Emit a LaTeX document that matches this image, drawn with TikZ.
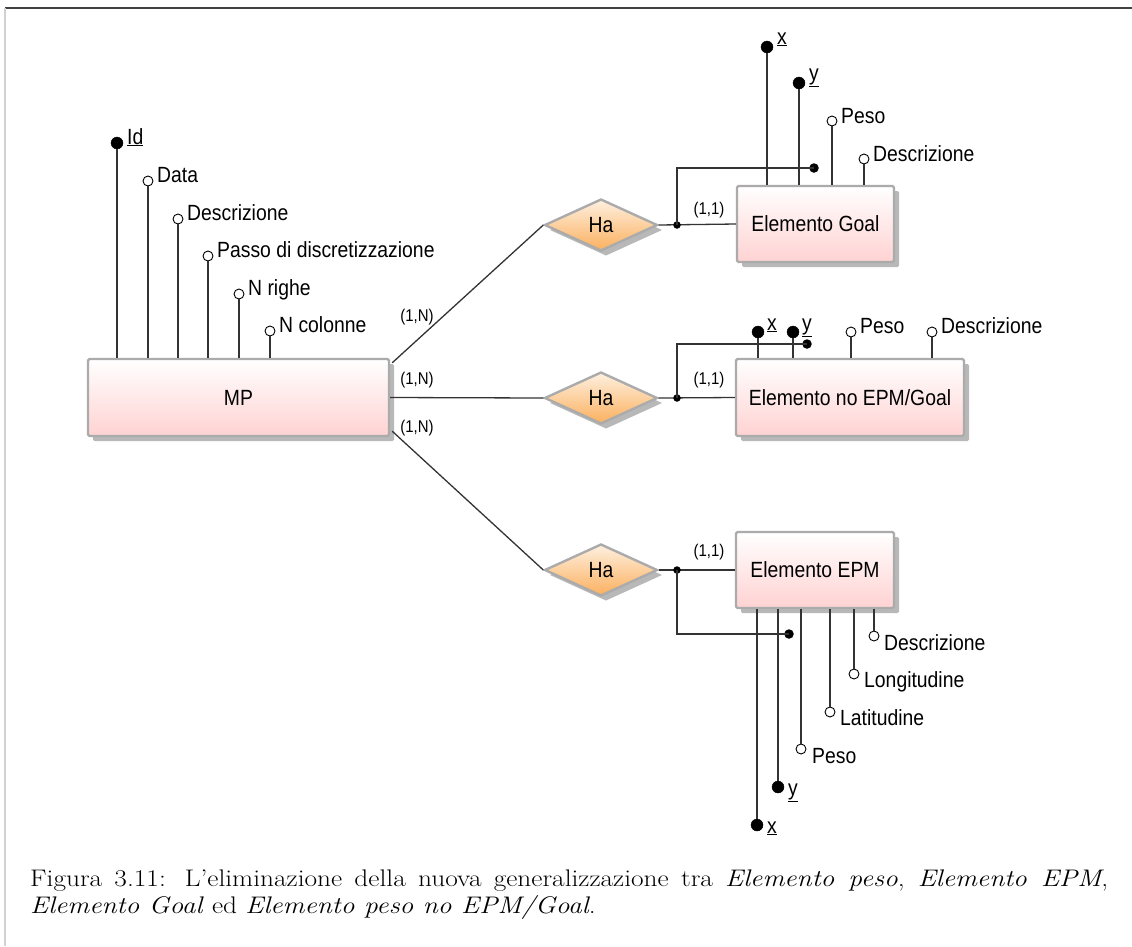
\documentclass[tikz,border=0pt]{standalone}
\usepackage{fontspec}
\newfontfamily\dfont[FakeStretch=0.88]{Liberation Sans}
\newfontfamily\capfont[FakeStretch=1.14]{Latin Modern Roman}
\usetikzlibrary{shapes.geometric,shadows,calc}
\definecolor{entbot}{HTML}{FFD2D2}
\definecolor{reltop}{HTML}{FEF0E0}
\definecolor{relbot}{HTML}{FBB05E}
\definecolor{shapeline}{HTML}{ABABAB}

\begin{document}
\begin{tikzpicture}[x=1pt,y=-1pt,
  entity/.style={rectangle, draw=shapeline, line width=2.4pt, rounded corners=1.5pt,
    top color=white, bottom color=entbot,
    drop shadow={shadow xshift=5pt, shadow yshift=-5pt, fill=black!28, opacity=1},
    inner sep=0pt, font=\dfont\fontsize{22}{26}\selectfont},
  relation/.style={diamond, draw=shapeline, line width=2.4pt,
    top color=reltop, bottom color=relbot,
    drop shadow={shadow xshift=5pt, shadow yshift=-5pt, fill=black!28, opacity=1},
    minimum width=113pt, minimum height=52pt, inner sep=0pt,
    font=\dfont\fontsize{22}{26}\selectfont},
  lbl/.style={inner sep=0pt, font=\dfont\fontsize{22}{26}\selectfont},
  card/.style={inner sep=0pt, font=\dfont\fontsize{17}{20}\selectfont},
  keyattr/.style={circle, fill=black, draw=black, inner sep=0pt, minimum size=12pt},
  attr/.style={circle, fill=white, draw=black, line width=0.9pt, inner sep=0pt, minimum size=10pt},
  jdot/.style={circle, fill=black, inner sep=0pt, minimum size=7.5pt},
  kdot/.style={circle, fill=black, inner sep=0pt, minimum size=9.5pt},
  link/.style={draw=black!80, line width=1.3pt}
]
\useasboundingbox (0,0) rectangle (1132,946);

% page frame
\draw[black!75, line width=2pt] (5,8) -- (1132,8);
\draw[black!18, line width=1.2pt] (5,8) -- (5,946);

% entities
\node[entity, minimum width=301pt, minimum height=77pt] (mp) at (238.5,397.5) {MP};
\node[entity, minimum width=157pt, minimum height=76pt] (goal) at (815.5,224) {Elemento Goal};
\node[entity, minimum width=228pt, minimum height=77pt] (noepm) at (850,397.5) {Elemento no EPM/Goal};
\node[entity, minimum width=158pt, minimum height=76pt] (epm) at (815,570) {Elemento EPM};

% relationships
\node[relation] (ha1) at (601,225) {Ha};
\node[relation] (ha2) at (601,398) {Ha};
\node[relation] (ha3) at (601,570) {Ha};

% MP to relationships
\draw[link] ($(mp.north east)+(2,5)$) -- (ha1.west);
\draw[link] (mp.east) -- (ha2.west);
\draw[link] ($(mp.south east)+(2,-6)$) -- (ha3.west);
\node[card] (c1) at (417,317) {(1,N)};
\node[card] (c2) at (417,380) {(1,N)};
\node[card] (c3) at (417,428) {(1,N)};

% relationships to entities, with external identifiers
\draw[link] (ha1.east) -- (goal.west);
\draw[link] (ha2.east) -- (noepm.west);
\draw[link] (ha3.east) -- (epm.west);
\node[card] (c4) at (709,210) {(1,1)};
\node[card] (c5) at (709,380) {(1,1)};
\node[card] (c6) at (709,552) {(1,1)};

\node[jdot] (j1) at (677,225) {};
\node[kdot] (k1) at (814,168) {};
\draw[link] (j1.center) |- (k1.center);
\node[jdot] (j2) at (677,398) {};
\node[kdot] (k2) at (807,344) {};
\draw[link] (j2.center) |- (k2.center);
\node[jdot] (j3) at (677,570) {};
\node[kdot] (k3) at (789,634) {};
\draw[link] (j3.center) |- (k3.center);

% MP attributes
\node[keyattr] (mid) at (117,143) {};
\node[attr] (mdata) at (148,181) {};
\node[attr] (mdesc) at (178,219) {};
\node[attr] (mpasso) at (208,256) {};
\node[attr] (mrighe) at (239,294) {};
\node[attr] (mcol) at (270,331) {};
\foreach \a in {mid,mdata,mdesc,mpasso,mrighe,mcol}
  \draw[link] (\a) -- (\a |- mp.north);
\node[lbl, anchor=base west] (lid) at ($(mid)+(10,1)$) {\underline{Id}};
\node[lbl, anchor=base west] (ldata) at ($(mdata)+(9,1)$) {Data};
\node[lbl, anchor=base west] (ldesc) at ($(mdesc)+(9,1)$) {Descrizione};
\node[lbl, anchor=base west] (lpasso) at ($(mpasso)+(9,1)$) {Passo di discretizzazione};
\node[lbl, anchor=base west] (lrighe) at ($(mrighe)+(9,1)$) {N righe};
\node[lbl, anchor=base west] (lcol) at ($(mcol)+(9,1)$) {N colonne};

% Elemento Goal attributes
\node[keyattr] (gx) at (767,47) {};
\node[keyattr] (gy) at (799,83) {};
\node[attr] (gpeso) at (832,121) {};
\node[attr] (gdesc) at (864,159) {};
\foreach \a in {gx,gy,gpeso,gdesc}
  \draw[link] (\a) -- (\a |- goal.north);
\node[lbl, anchor=base west] (lgx) at ($(gx)+(10,-3)$) {\underline{x}};
\node[lbl, anchor=base west] (lgy) at ($(gy)+(10,-3)$) {\underline{y}};
\node[lbl, anchor=base west] (lgpeso) at ($(gpeso)+(9,2)$) {Peso};
\node[lbl, anchor=base west] (lgdesc) at ($(gdesc)+(9,2)$) {Descrizione};

% Elemento no EPM/Goal attributes
\node[keyattr] (nx) at (758,332) {};
\node[keyattr] (ny) at (793,332) {};
\node[attr] (npeso) at (851,332) {};
\node[attr] (ndesc) at (932,332) {};
\foreach \a in {nx,ny,npeso,ndesc}
  \draw[link] (\a) -- (\a |- noepm.north);
\node[lbl, anchor=base west] (lnx) at ($(nx)+(9,-2)$) {\underline{x}};
\node[lbl, anchor=base west] (lny) at ($(ny)+(9,-2)$) {\underline{y}};
\node[lbl, anchor=base west] (lnpeso) at ($(npeso)+(9,1)$) {Peso};
\node[lbl, anchor=base west] (lndesc) at ($(ndesc)+(9,1)$) {Descrizione};

% Elemento EPM attributes
\node[keyattr] (ex) at (757,825) {};
\node[keyattr] (ey) at (778,787) {};
\node[attr] (epeso) at (801,749) {};
\node[attr] (elat) at (830,712) {};
\node[attr] (elon) at (854,674) {};
\node[attr] (edesc) at (874,636) {};
\foreach \a in {ex,ey,epeso,elat,elon,edesc}
  \draw[link] (\a) -- (\a |- epm.south);
\node[lbl, anchor=base west] (lex) at ($(ex)+(10,8)$) {\underline{x}};
\node[lbl, anchor=base west] (ley) at ($(ey)+(10,8)$) {\underline{y}};
\node[lbl, anchor=base west] (lepeso) at ($(epeso)+(11,14)$) {Peso};
\node[lbl, anchor=base west] (lelat) at ($(elat)+(10,13)$) {Latitudine};
\node[lbl, anchor=base west] (lelon) at ($(elon)+(10,13)$) {Longitudine};
\node[lbl, anchor=base west] (ledesc) at ($(edesc)+(10,14)$) {Descrizione};

% caption
\node[anchor=north west, text width=1078pt, align=justify, inner sep=0pt,
  font=\capfont\fontsize{24}{27}\selectfont] (cap) at (30,870)
  {Figura 3.11: L’eliminazione della nuova generalizzazione tra \textit{Elemento peso}, \textit{Elemento EPM},\linebreak
   \textit{Elemento Goal} ed \textit{Elemento peso no EPM/Goal}.};
\end{tikzpicture}
\end{document}
